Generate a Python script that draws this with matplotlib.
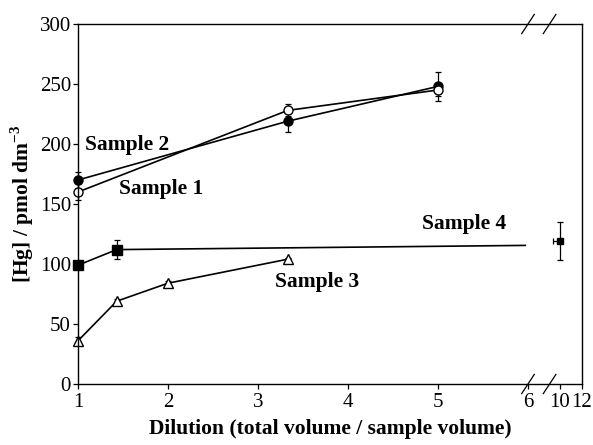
import numpy as np
import matplotlib.pyplot as plt

plt.rcParams['font.family'] = ['Liberation Serif', 'DejaVu Serif']
plt.rcParams['mathtext.fontset'] = 'custom'
plt.rcParams['mathtext.rm'] = 'Liberation Serif'
plt.rcParams['mathtext.bf'] = 'Liberation Serif:bold'

# =============================================================================
# data
# =============================================================================
s1_x   = [1, 3.33, 5]
s1_y   = [160, 228, 245]
s1_err = [7, 5, 5]

s2_x   = [1, 3.33, 5]
s2_y   = [170, 219, 248]
s2_err = [7, 9, 12]

s3_x   = [1, 1.43, 2, 3.33]
s3_y   = [36, 69, 84, 104]
s3_err = [3, 2, 2, 1]

s4_x   = [1, 1.43, 10]
s4_y   = [99, 112, 119]
s4_err = [2, 8, 16]

x_ticks  = [1, 2, 3, 4, 5, 6, 10, 12]
y_ticks  = [0, 50, 100, 150, 200, 250, 300]


def bx(x):
    # broken x axis: 1..6 linear, then 10..12 squeezed
    x = np.asarray(x, dtype=float)
    return np.where(x <= 6, x, 6.356 + (x - 10) * 0.122)


fig = plt.figure(figsize=(5.93, 4.45), dpi=100)
ax = fig.add_axes([78/593, 1-384/445, 504/593, 360/445])

kw = dict(color='k', lw=1.2, ms=6.5, capsize=2.5, elinewidth=0.9, capthick=0.9, clip_on=False)
ax.errorbar(bx(s2_x), s2_y, yerr=s2_err, marker='o', mfc='k', **kw)
ax.errorbar(bx(s1_x), s1_y, yerr=s1_err, marker='o', mfc='white', **kw)
ax.errorbar(bx(s3_x), s3_y, yerr=s3_err, marker='^', mfc='white', **kw)
ax.errorbar(bx(s4_x[:2]), s4_y[:2], yerr=s4_err[:2], marker='s', mfc='k', ls='none', **kw)
ax.errorbar(bx(s4_x[2:]), s4_y[2:], yerr=s4_err[2:], xerr=[[0.08], [0]], marker='s', mfc='k', ms=5,
            ls='none', color='k', capsize=2.5, elinewidth=0.9, capthick=0.9)
# sample 4 line runs to the break
ax.plot([bx(s4_x[0]), bx(s4_x[1]), 5.97], [s4_y[0], s4_y[1], 115.5], color='k', lw=1.2)

ax.set_xlim(1, 6.6)
ax.set_ylim(0, 300)
ax.set_xticks(bx(x_ticks))
ax.set_xticklabels([str(t) for t in x_ticks])
ax.set_yticks(y_ticks)
ax.tick_params(direction='out', length=3.5, width=0.9, labelsize=15, pad=1.5)
ax.tick_params(axis='x', pad=3)
for sp in ax.spines.values():
    sp.set_linewidth(1.0)

# break marks
for x0 in [5.93, 6.17]:
    for yy in [0, 300]:
        ax.plot([x0, x0 + 0.14], [yy - 8, yy + 8], color='k', lw=0.9, clip_on=False)

ax.set_xlabel('Dilution (total volume / sample volume)', fontsize=15.5, fontweight='bold', labelpad=5)
ax.set_ylabel('[Hg] / pmol dm$^{\\mathbf{-3}}$', fontsize=15.5, fontweight='bold', labelpad=3)

tk = dict(fontsize=15.5, fontweight='bold')
ax.text(1.08, 195, 'Sample 2', **tk)
ax.text(1.46, 158, 'Sample 1', **tk)
ax.text(3.19, 81, 'Sample 3', **tk)
ax.text(4.82, 129, 'Sample 4', **tk)

plt.savefig('out.png', dpi=100)
